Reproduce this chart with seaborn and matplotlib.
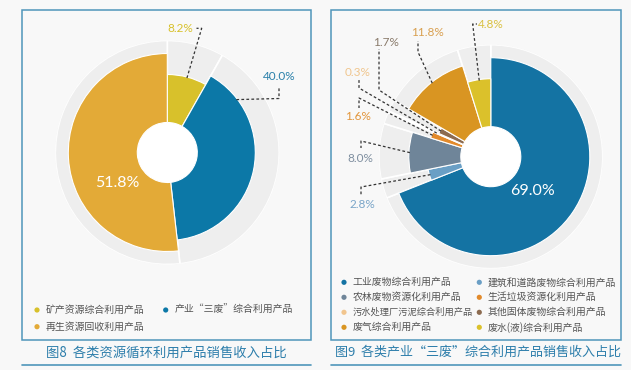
import numpy as np
import matplotlib
matplotlib.use("Agg")
import matplotlib.pyplot as plt
from matplotlib.patches import Rectangle
import seaborn as sns

sns.set_theme(style="white")
plt.rcParams['font.family'] = ['Noto Sans CJK SC', 'DejaVu Sans']

# 图8 data
res_labels = ["矿产资源综合利用产品", "产业“三废”综合利用产品", "再生资源回收利用产品"]
res_share = [8.2, 40.0, 51.8]
res_colors = ["#D8C12B", "#0C78A7", "#E3AA37"]
res_radius = [78, 88, 99]

# 图9 data
waste_labels = ["工业废物综合利用产品", "建筑和道路废物综合利用产品", "农林废物资源化利用产品",
                "生活垃圾资源化利用产品", "污水处理厂污泥综合利用产品", "其他固体废物综合利用产品",
                "废气综合利用产品", "废水(液)综合利用产品"]
waste_share = [69.0, 2.8, 8.0, 1.6, 0.3, 1.7, 11.8, 4.8]
waste_colors = ["#1473A3", "#6A9FC5", "#6F8599", "#E28A2B", "#F1C58E", "#8C6B50", "#D99522", "#DBC12B"]
waste_radius = [99, 64, 82, 63, 60, 57, 95, 78]

W, H = 631, 370
BG = "#F8F8F8"
FRAME = "#4F96BA"
TITLE = "#2D7EAB"
NUM_FONT = ['Lato', 'DejaVu Sans']

fig = plt.figure(figsize=(W / 100, H / 100), dpi=100, facecolor=BG)


def donut(cx, cy, shares, radii, colors, hole=30, outer=112):
    ax = fig.add_axes([(cx - outer) / W, (H - cy - outer) / H, 2 * outer / W, 2 * outer / H],
                      projection='polar')
    ax.set_theta_zero_location('N')
    ax.set_theta_direction(-1)
    ax.set_ylim(0, outer)
    frac = np.array(shares) / sum(shares)
    widths = 2 * np.pi * frac
    starts = np.concatenate([[0], np.cumsum(widths)[:-1]])
    mids = starts + widths / 2
    # grey background ring, one segment per slice
    ax.bar(mids, outer - hole, width=widths, bottom=hole, color="#EEEEEE",
           edgecolor="white", linewidth=1.2)
    ax.bar(mids, np.array(radii) - hole, width=widths, bottom=hole, color=colors,
           edgecolor="white", linewidth=0.8)
    ax.set_xticks([])
    ax.set_yticks([])
    ax.grid(False)
    ax.spines['polar'].set_visible(False)
    ax.set_facecolor("white")
    return starts, widths


left_c = (167.3, 152.5)
right_c = (490.8, 156.7)
res_geo = donut(*left_c, res_share, res_radius, res_colors)
waste_geo = donut(*right_c, waste_share, waste_radius, waste_colors)

# overlay in pixel coordinates for frames, labels and legends
ov = fig.add_axes([0, 0, 1, 1])
ov.set_xlim(0, W)
ov.set_ylim(H, 0)
ov.axis('off')
ov.patch.set_alpha(0)


def point_on(center, geo, i, t, r):
    starts, widths = geo
    phi = starts[i] + t * widths[i]
    return center[0] + r * np.sin(phi), center[1] - r * np.cos(phi)


def callouts(center, geo, shares, radii, colors, layout):
    for i, lay in enumerate(layout):
        txt = f"{shares[i]:.1f}%"
        if lay.get("inside"):
            x, y = point_on(center, geo, i, lay["t"], lay["r"])
            ov.text(x, y, txt, color="white", fontsize=11.5, family=NUM_FONT,
                    ha='center', va='center')
            continue
        ax_, ay_ = point_on(center, geo, i, lay.get("t", 0.5), radii[i] - 1)
        xs = [ax_] + [p[0] for p in lay["path"]]
        ys = [ay_] + [p[1] for p in lay["path"]]
        ov.plot(xs, ys, color="#333333", lw=0.9, ls=(0, (2.2, 1.8)))
        ov.text(*lay["text"], txt, color=lay.get("color", colors[i]), fontsize=8.5,
                family=NUM_FONT, ha='center', va='center')


res_layout = [
    dict(text=(180, 28), path=[(201.7, 28.3), (196.5, 28.3)]),
    dict(text=(279, 77), t=0.16, path=[(279, 98.5), (279, 87)], color="#2A80AA"),
    dict(inside=True, t=0.35, r=59),
]
waste_layout = [
    dict(inside=True, t=0.52, r=54),
    dict(text=(362, 204), path=[(361, 187), (361, 195)], color="#7AA5C8"),
    dict(text=(360, 158), path=[(361, 141), (361, 148)], color="#7F8FA0"),
    dict(text=(358, 116), path=[(359, 98), (359, 108)], color="#E2953A"),
    dict(text=(358, 72), path=[(359, 88), (359, 79)], color="#F0C68E"),
    dict(text=(386, 43), path=[(379, 90), (379, 49)], color="#8A7B6B"),
    dict(text=(427, 33), path=[(418, 52), (418, 41)], color="#D9A050"),
    dict(text=(490.5, 24), path=[(472.7, 24), (477, 24)], color="#D9C040"),
]
callouts(left_c, res_geo, res_share, res_radius, res_colors, res_layout)
callouts(right_c, waste_geo, waste_share, waste_radius, waste_colors, waste_layout)


def legend(labels, colors, col_x, row_y0, row_step):
    xs, ys = [], []
    for k, lab in enumerate(labels):
        x = col_x[k % 2]
        y = row_y0 + row_step * (k // 2)
        xs.append(x)
        ys.append(y)
        size = 7.1
        if k % 2 == 0:
            # shrink long first-column labels so they stop before the second column
            room = col_x[1] - x - 15
            size = min(size, room / len(lab) * 72 / 100)
        ov.text(x + 8.5, y, lab, fontsize=size, color="#555555", ha='left', va='center')
    keys = [str(k) for k in range(len(labels))]
    sns.scatterplot(x=xs, y=ys, hue=keys, ax=ov, s=14, linewidth=0,
                    palette=dict(zip(keys, colors)), legend=False)


legend(res_labels, res_colors, [37, 165.7], 310, 16.7)
legend(waste_labels, waste_colors, [344, 479.3], 282.3, 15)

# frames and captions
for x0, x1 in [(21.5, 311), (331, 621)]:
    ov.add_patch(Rectangle((x0, 10), x1 - x0, 329.5, fill=False, edgecolor=FRAME, lw=1.1))
    ov.plot([x0, x1], [365, 365], color=FRAME, lw=1.2)

ov.text(45.7, 352.5, "图8  各类资源循环利用产品销售收入占比", fontsize=9.6, color=TITLE,
        ha='left', va='center')
ov.text(335, 352.5, "图9  各类产业“三废”综合利用产品销售收入占比", fontsize=9.4, color=TITLE,
        ha='left', va='center')

fig.savefig("out.png", dpi=100, facecolor=BG)
